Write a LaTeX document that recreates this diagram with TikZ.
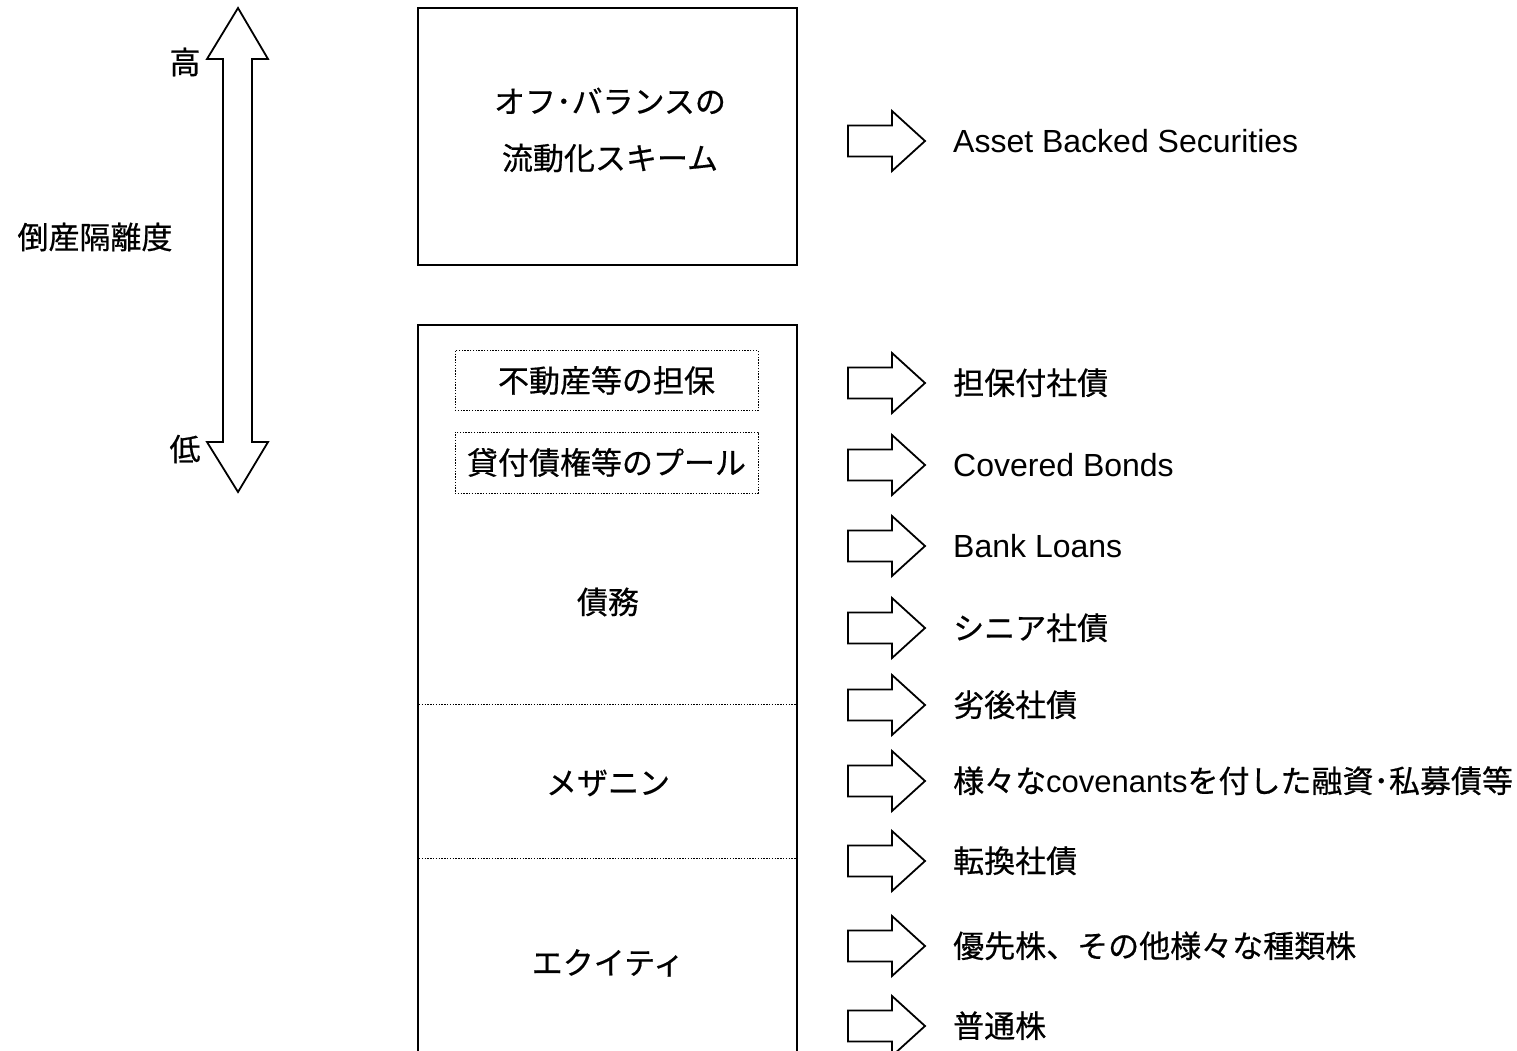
\documentclass[tikz,border=0pt]{standalone}
\usepackage{fontspec}
\setmainfont{Liberation Sans}
\newfontfamily\cjk[BoldFont={Noto Sans CJK JP},BoldFeatures={FakeBold=0.5}]{Noto Sans CJK JP}
\newfontfamily\latin{Liberation Sans}
\begin{document}
\begin{tikzpicture}[x=1pt,y=-1pt,
  solid line/.style={draw=black,line width=1.8pt,line join=miter},
  dot line/.style={draw=black,line width=1pt,dash pattern=on 1.4pt off 1.4pt},
  jtext/.style={inner sep=0pt,font=\cjk\bfseries\fontsize{31}{37}\selectfont},
  ltext/.style={inner sep=0pt,font=\latin\fontsize{32}{38}\selectfont},
  lbl/.style={anchor=base west},
  blockarrow/.pic={\draw[solid line] (0,-15.5) -- (44,-15.5) -- (44,-30) -- (77,0) -- (44,30) -- (44,15.5) -- (0,15.5) -- cycle;}
]
\useasboundingbox[fill=white] (0,0) rectangle (1517,1051);

% double arrow
\draw[solid line] (238,8) -- (268,59) -- (252,59) -- (252,442) -- (268,442) -- (238,492)
  -- (207,442) -- (223,442) -- (223,59) -- (207,59) -- cycle;
\node[jtext] (hi) at (185,62) {高};
\node[jtext] (lo) at (185,449) {低};
\node[jtext] (deg) at (95,237) {倒産隔離度};

% top box
\node[solid line,minimum width=379pt,minimum height=257pt,inner sep=0pt] (off) at (607.5,136.5) {};
\node[jtext] (off1) at (610,101) {オフ･バランスの};
\node[jtext] (off2) at (610,158) {流動化スキーム};

% big box (open at the bottom)
\draw[solid line] (418,1060) -- (418,325) coordinate (bigtl) -- (797,325) coordinate (bigtr) -- (797,1060);
\node[dot line,minimum width=303pt,minimum height=60pt,inner sep=0pt] (coll) at (606.5,380.5) {};
\node[jtext] at (coll) {不動産等の担保};
\node[dot line,minimum width=303pt,minimum height=61pt,inner sep=0pt] (pool) at (606.5,462.5) {};
\node[jtext] at (pool) {貸付債権等のプール};
\coordinate (s1l) at (419,704);
\coordinate (s1r) at (796,704);
\coordinate (s2l) at (419,858);
\coordinate (s2r) at (796,858);
\draw[dot line] (s1l) -- (s1r);
\draw[dot line] (s2l) -- (s2r);
\node[jtext] (debt) at (608,602) {債務};
\node[jtext] (mezz) at (608,783) {メザニン};
\node[jtext] (eq) at (608,963) {エクイティ};

% block arrows
\foreach \yy in {141,383,465,546,628,705,781,861,946,1026}
  \pic at (848,\yy) {blockarrow};

% right labels
\node[ltext,lbl] (t1) at (953,152.5) {Asset Backed Securities};
\node[jtext,lbl] (t2) at (953,394.5) {担保付社債};
\node[ltext,lbl] (t3) at (953,476.5) {Covered Bonds};
\node[ltext,lbl] (t4) at (953,557.5) {Bank Loans};
\node[jtext,lbl] (t5) at (953,639.5) {シニア社債};
\node[jtext,lbl] (t6) at (953,716.5) {劣後社債};
\node[jtext,lbl] (t7) at (953,792.5) {様々な{\latin\mdseries\fontsize{31}{37}\selectfont covenants}を付した融資･私募債等};
\node[jtext,lbl] (t8) at (953,872.5) {転換社債};
\node[jtext,lbl] (t9) at (953,957.5) {優先株、その他様々な種類株};
\node[jtext,lbl] (t10) at (953,1037.5) {普通株};
\end{tikzpicture}
\end{document}
